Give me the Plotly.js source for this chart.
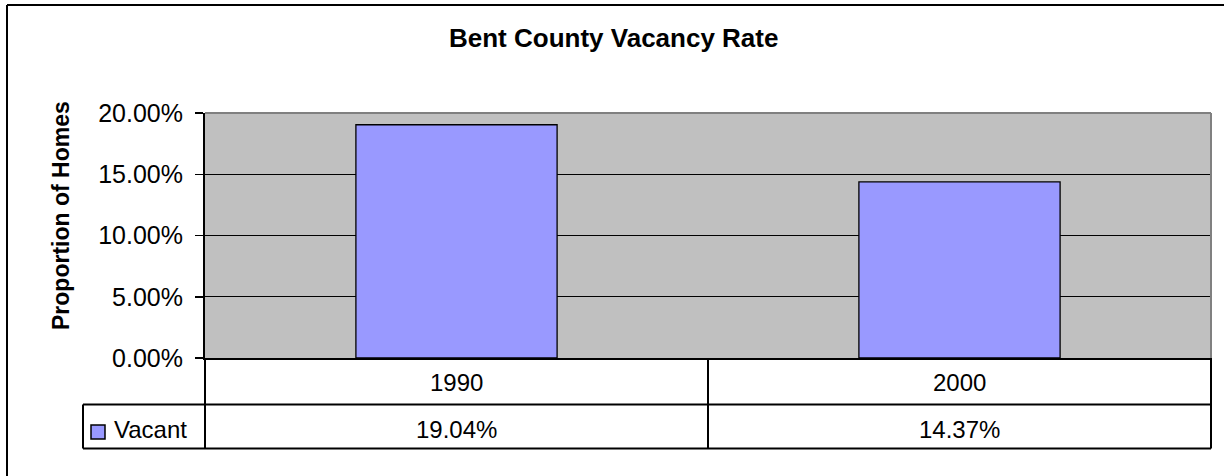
<!DOCTYPE html>
<html>
<head>
<meta charset="utf-8">
<script src="https://cdn.plot.ly/plotly-3.0.1.min.js"></script>
<style>
html,body{margin:0;padding:0;background:#fff;}
#chart{width:1224px;height:476px;}
</style>
</head>
<body>
<div id="chart"></div>
<script>
var categories = ['1990', '2000'];
var vacant = [0.1904, 0.1437];
var seriesName = 'Vacant';
var chartTitle = 'Bent County Vacancy Rate';
var yTitle = 'Proportion of Homes';

var W = 1224, H = 476;
var L = 205, R = 1211, T = 113, B = 358;
var pw = R - L, ph = B - T;
function px(x){ return (x - L) / pw; }
function py(y){ return (B - y) / ph; }

var FONT = 'Arial, "Liberation Sans", sans-serif';

var trace = {
  type: 'bar',
  x: categories,
  y: vacant,
  name: seriesName,
  marker: {color: '#9999FF', line: {color: '#000000', width: 1.3}},
  hoverinfo: 'none'
};

var shapes = [];
function line(x0, y0, x1, y1, color, w){
  shapes.push({type:'line', xref:'paper', yref:'paper', x0:px(x0), y0:py(y0), x1:px(x1), y1:py(y1),
    line:{color:color, width:w}});
}
// outer chart frame (extends beyond right/bottom)
line(7, 5, 1230, 5, '#000', 2);
line(7, 5, 7, 480, '#000', 2);
// plot area top/right gray border
line(L, T, R, T, '#808080', 2);
line(R, T, R, B, '#808080', 2);
// data table
line(83, 404.5, R, 404.5, '#000', 2);
line(83, 448.5, R, 448.5, '#000', 2);
line(L, B, L, 448.5, '#000', 2);
line(83, 404.5, 83, 448.5, '#000', 2);
line(R, B, R, 448.5, '#000', 2);
// category separator at the boundary between the two categories
line(L + pw / categories.length, B, L + pw / categories.length, 448.5, '#000', 2);
// legend key
shapes.push({type:'rect', xref:'paper', yref:'paper', x0:px(91), x1:px(105), y0:py(425), y1:py(439),
  fillcolor:'#9999FF', line:{color:'#000', width:1.5}});

var annotations = [];
annotations.push({xref:'paper', yref:'paper', x:px(613), y:py(38.5), text:'<b>'+chartTitle+'</b>',
  showarrow:false, xanchor:'center', yanchor:'middle', font:{family:FONT, size:26, color:'#000'}});
annotations.push({xref:'paper', yref:'paper', x:px(61), y:py(216), text:'<b>'+yTitle+'</b>',
  showarrow:false, textangle:-90, xanchor:'center', yanchor:'middle', font:{family:FONT, size:23, color:'#000'}});
annotations.push({xref:'paper', yref:'paper', x:px(112), y:py(429), text:seriesName,
  showarrow:false, xanchor:'left', yanchor:'middle', font:{family:FONT, size:24, color:'#000'}});
categories.forEach(function(c, i){
  annotations.push({xref:'x', yref:'paper', x:i, y:py(382), text:c, showarrow:false,
    xanchor:'center', yanchor:'middle', font:{family:FONT, size:24, color:'#000'}});
  annotations.push({xref:'x', yref:'paper', x:i, y:py(429), text:(vacant[i]*100).toFixed(2)+'%', showarrow:false,
    xanchor:'center', yanchor:'middle', font:{family:FONT, size:24, color:'#000'}});
});

var layout = {
  width: W, height: H,
  margin: {l: L, r: W - R, t: T, b: H - B, pad: 0},
  paper_bgcolor: '#ffffff',
  plot_bgcolor: '#C0C0C0',
  showlegend: false,
  bargap: 0.6,
  font: {family: FONT, color: '#000'},
  xaxis: {
    type: 'category',
    range: [-0.5, categories.length - 0.5],
    showticklabels: false,
    ticks: '',
    showgrid: false,
    zeroline: false,
    showline: true, linecolor: '#000', linewidth: 2,
    fixedrange: true
  },
  yaxis: {
    range: [0, 0.2],
    dtick: 0.05,
    tick0: 0,
    tickformat: '.2%',
    ticks: 'outside', ticklen: 8, tickwidth: 1.5, tickcolor: '#000',
    ticklabelstandoff: 7,
    tickfont: {family: FONT, size: 25, color: '#000'},
    showgrid: true, gridcolor: '#000', gridwidth: 1,
    zeroline: false,
    showline: true, linecolor: '#000', linewidth: 2,
    fixedrange: true
  },
  shapes: shapes,
  annotations: annotations
};

Plotly.newPlot('chart', [trace], layout, {displayModeBar: false, staticPlot: true});
</script>
</body>
</html>
